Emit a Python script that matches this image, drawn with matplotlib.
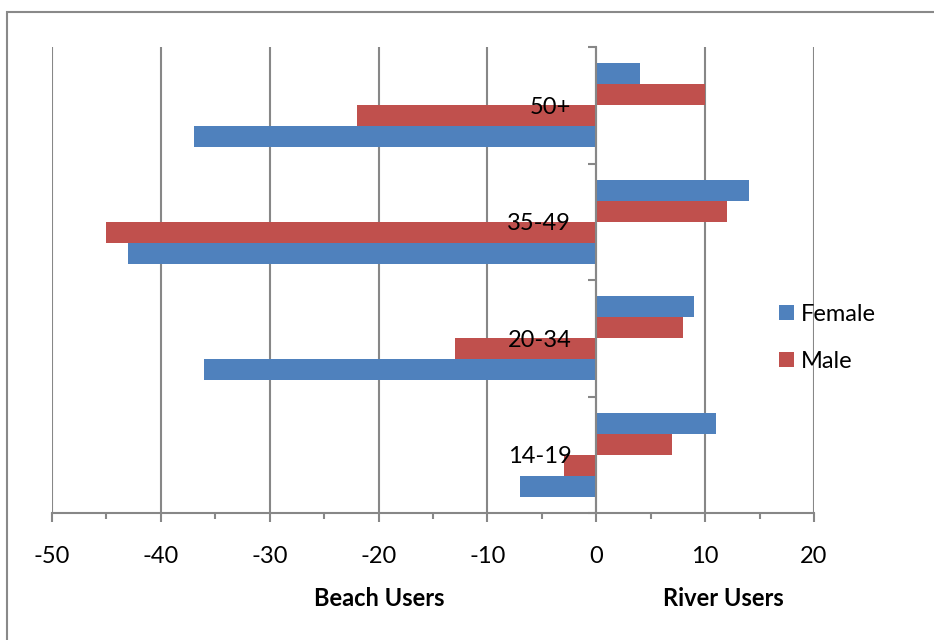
import matplotlib
matplotlib.use("Agg")
import matplotlib.pyplot as plt
from matplotlib.patches import Rectangle
import numpy as np

# Age groups, bottom to top
categories = ["14-19", "20-34", "35-49", "50+"]

# River users (positive side)
river_female = [11, 9, 14, 4]
river_male = [7, 8, 12, 10]

# Beach users (negative side)
beach_male = [-3, -13, -45, -22]
beach_female = [-7, -36, -43, -37]

x_ticks = [-50, -40, -30, -20, -10, 0, 10, 20]

BLUE = "#4F81BD"
RED = "#C0504D"
GRID = "#878787"

plt.rcParams["font.family"] = ["Lato", "DejaVu Sans"]
FS = 17

fig = plt.figure(figsize=(9.34, 6.4), dpi=100)
ax = fig.add_axes([52 / 934, 1 - 513 / 640, (814 - 52) / 934, (513 - 47) / 640])

y = np.arange(len(categories)) + 0.5
h = 0.18
bf = ax.barh(y + 0.27, river_female, height=h, color=BLUE, label="Female", zorder=2)
bm = ax.barh(y + 0.09, river_male, height=h, color=RED, label="Male", zorder=2)
ax.barh(y - 0.09, beach_male, height=h, color=RED, zorder=2)
ax.barh(y - 0.27, beach_female, height=h, color=BLUE, zorder=2)

ax.set_xlim(-50, 20)
ax.set_ylim(0, len(categories))

# x axis
ax.set_xticks(x_ticks)
ax.set_xticklabels([str(v) for v in x_ticks], fontsize=FS)
ax.set_xticks(np.arange(-45, 20, 10), minor=True)
ax.tick_params(axis="x", which="major", direction="out", length=6.5, width=1.5,
               color=GRID, pad=17)
ax.tick_params(axis="x", which="minor", direction="out", length=4.3, width=1.5,
               color=GRID)
ax.grid(axis="x", which="major", color=GRID, linewidth=1.5)
ax.set_axisbelow(True)

# y axis sits at zero; its category labels are drawn over the bars
ax.spines["left"].set_position(("data", 0))
ax.spines["left"].set_color(GRID)
ax.spines["left"].set_linewidth(1.5)
ax.spines["bottom"].set_color(GRID)
ax.spines["bottom"].set_linewidth(1.5)
ax.spines["top"].set_visible(False)
ax.spines["right"].set_visible(False)

ax.set_yticks(np.arange(len(categories) + 1))
ax.set_yticklabels([])
ax.set_yticks(y, minor=True)
ax.set_yticklabels(categories, minor=True, fontsize=FS)
ax.tick_params(axis="y", which="major", direction="out", length=6, width=1.5, color=GRID)
ax.tick_params(axis="y", which="minor", length=0, pad=18)
ax.yaxis.set_zorder(5)

# Axis titles
fig.text(379 / 934, 1 - 598 / 640, "Beach Users", fontsize=FS, fontweight="bold",
         ha="center", va="center")
fig.text(723 / 934, 1 - 598 / 640, "River Users", fontsize=FS, fontweight="bold",
         ha="center", va="center")

# Legend
fig.legend(handles=[bf, bm], labels=["Female", "Male"], loc="center left",
           bbox_to_anchor=(779 / 934, 1 - 338 / 640), frameon=False, fontsize=FS,
           handlelength=0.62, handleheight=0.62, handletextpad=0.3,
           labelspacing=1.1, borderpad=0, borderaxespad=0)

# Chart frame
fig.patches.append(Rectangle((7 / 934, -0.1), 1.2, 1 - 12 / 640 + 0.1,
                             transform=fig.transFigure, fill=False,
                             edgecolor="#898989", linewidth=1.5))

fig.savefig("out.png", dpi=100)
